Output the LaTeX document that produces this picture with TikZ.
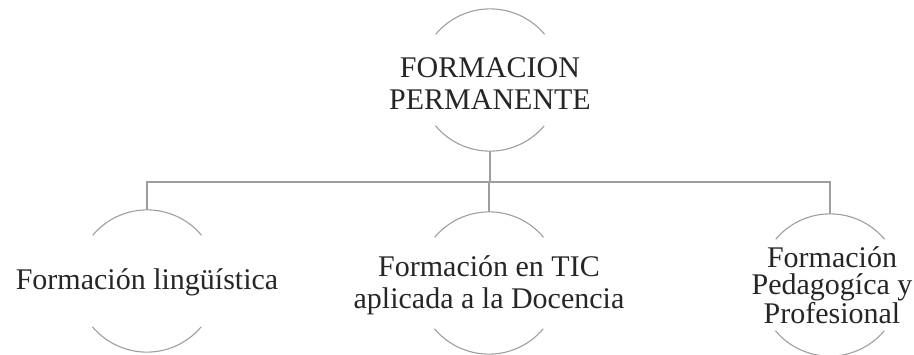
\documentclass[tikz,border=0pt]{standalone}
\usepackage{fontspec}
\setmainfont{Liberation Serif}
\begin{document}
\begin{tikzpicture}[x=1pt,y=1pt,
  circ/.style={circle,minimum size=142pt,inner sep=0pt,draw=none},
  lbl/.style={align=center,font=\fontsize{30}{32}\selectfont,text=black!85},
  arcline/.style={draw=black!38,line width=1.1pt},
  conn/.style={draw=black!38,line width=1.1pt}]
\useasboundingbox (0,0) rectangle (914,-354);
% circles
\node[circ] (topc) at (490,-80) {};
\node[circ] (leftc) at (147,-281) {};
\node[circ] (midc) at (489,-283) {};
\node[circ] (rightc) at (830,-285) {};
% arcs
\foreach \c in {topc,leftc,midc,rightc}{
  \draw[arcline] (\c.40) arc[start angle=40,end angle=140,radius=71pt];
  \draw[arcline] (\c.220) arc[start angle=220,end angle=320,radius=71pt];
}
% texts
\node[lbl] (topt) at (490,-84) {FORMACION\\PERMANENTE};
\node[lbl] (leftt) at (147,-282) {Formación lingüística};
\node[lbl] (midt) at (489,-285) {Formación en TIC\\aplicada a la Docencia};
\node[lbl,font=\fontsize{30}{27}\selectfont] (rightt) at (832,-285) {Formación\\Pedagogíca y\\Profesional};
% connectors
\coordinate (bus) at (490,-182);
\draw[conn] (topc.south) -- (bus);
\draw[conn] (bus) -| (leftc.north);
\draw[conn] (bus) -| (rightc.north);
\draw[conn] (bus -| midc.north) -- (midc.north);
\end{tikzpicture}
\end{document}
